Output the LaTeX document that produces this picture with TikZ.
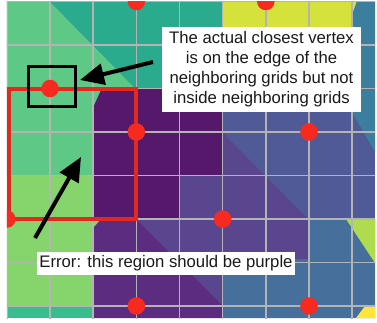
\documentclass[tikz,border=0pt]{standalone}
\usepackage{fontspec}
\setmainfont{Liberation Sans}
\usetikzlibrary{arrows.meta}
\definecolor{mgreen}{HTML}{5EC887}
\definecolor{lgreen}{HTML}{85D46C}
\definecolor{tgreen}{HTML}{3ABD8E}
\definecolor{teal}{HTML}{2AAB8E}
\definecolor{dpurple}{HTML}{56186A}
\definecolor{mpurple}{HTML}{5C2C80}
\definecolor{bpurple}{HTML}{5A468E}
\definecolor{bluepurple}{HTML}{4F5A96}
\definecolor{steel}{HTML}{46709B}
\definecolor{trblue}{HTML}{3C7E9D}
\definecolor{ygreen}{HTML}{D5E23C}
\definecolor{lime}{HTML}{AEDC4E}
\definecolor{yel}{HTML}{FDE53C}
\definecolor{dotred}{HTML}{F72A20}
\definecolor{rectred}{HTML}{E3281D}
\definecolor{gridgray}{HTML}{B4B4B4}
\begin{document}
\begin{tikzpicture}[x=1pt,y=-1pt,
  gridline/.style={gridgray,line width=1.5},
  vdot/.style={circle,fill=dotred,inner sep=0,minimum size=17.5},
  callout/.style={fill=white,text=black!90,font=\fontsize{16.7}{20}\selectfont,align=center},
  bigarrow/.style={line width=4,-{Triangle[length=24,width=21]}}]
\useasboundingbox (0,0) rectangle (377,322);
\fill[white] (0,0) rectangle (377,322);
\begin{scope}
\clip (6.9,1.5) rectangle (375,318);
% colour regions
\fill[bluepurple] (6.9,1.5) rectangle (375,318);
\fill[mgreen] (6.9,1.5) -- (50,1.5) -- (135,88) -- (102,88) -- (93,108) -- (93,175) -- (6.9,175) -- cycle;
\fill[lgreen] (6.9,175) rectangle (93,306);
\fill[tgreen] (6.9,306) rectangle (93,318);
\fill[teal] (50,1.5) -- (222,1.5) -- (222,88) -- (135,88) -- cycle;
\fill[ygreen] (222,1.5) -- (357,1.5) -- (352,15) -- (352,88) -- (222,88) -- cycle;
\fill[trblue] (357,1.5) -- (375,1.5) -- (375,152) -- (352,112) -- (352,15) -- cycle;
\fill[dpurple] (102,88) -- (222,88) -- (222,175) -- (179,175) -- (179,219) -- (93,219) -- (93,108) -- cycle;
\fill[steel] (222,259) -- (375,219) -- (375,318) -- (222,318) -- cycle;
\fill[steel] (222,219) rectangle (375,318);
\fill[bpurple] (179,175) -- (222,175) -- (222,132) -- (308,219) -- (308,259) -- (222,259) -- (222,305) -- (136,219) -- (179,219) -- cycle;
\fill[mpurple] (93,219) -- (136,219) -- (222,305) -- (222,318) -- (93,318) -- cycle;
\fill[lgreen] (93,219) -- (101,219) -- (93,228) -- cycle;
\fill[lime] (346,219) -- (375,219) -- (375,263) -- cycle;
\fill[yel] (365,306) -- (375,306) -- (375,318) -- (356,318) -- cycle;
% grid
\foreach \gx in {6.9,50.05,93.2,136.35,179.5,222.65,265.8,308.95,352.1}
  \draw[gridline] (\gx,0) -- (\gx,322);
\foreach \gy in {1.5,45,88.5,132,175.5,219,262.5,306}
  \draw[gridline] (0,\gy) -- (377,\gy);
% red rectangle
\draw[rectred,line width=4] (8.5,88.5) rectangle (136.35,219);
% vertices
\node[vdot] (v1) at (136.35,1.5) {};
\node[vdot] (v2) at (265.8,1.5) {};
\node[vdot] (v3) at (50.05,88.5) {};
\node[vdot] (v4) at (136.35,132) {};
\node[vdot] (v5) at (308.95,132) {};
\node[vdot] (v6) at (6.9,219) {};
\node[vdot] (v7) at (222.65,219) {};
\node[vdot] (v8) at (136.35,306) {};
\node[vdot] (v9) at (308.95,306) {};
\end{scope}
% black square around the vertex
\node[draw=black,line width=3.3,minimum width=47,minimum height=40,inner sep=0] (sq) at (52,86.5) {};
% callouts
\node[callout,minimum width=199,minimum height=85,inner sep=0] (t1) at (261.5,69.5)
  {The actual closest vertex\\is on the edge of the\\neighboring grids but not\\inside neighboring grids};
\node[callout,minimum width=258,minimum height=23,inner sep=0] (t2) at (166,263.5)
  {Error: this region should be purple};
% arrows
\coordinate (a1s) at (153,62);
\coordinate (a1e) at (80,80);
\coordinate (a2s) at (35,238);
\coordinate (a2e) at (81,157);
\draw[bigarrow] (a1s) -- (a1e);
\draw[bigarrow] (a2s) -- (a2e);
\end{tikzpicture}
\end{document}
